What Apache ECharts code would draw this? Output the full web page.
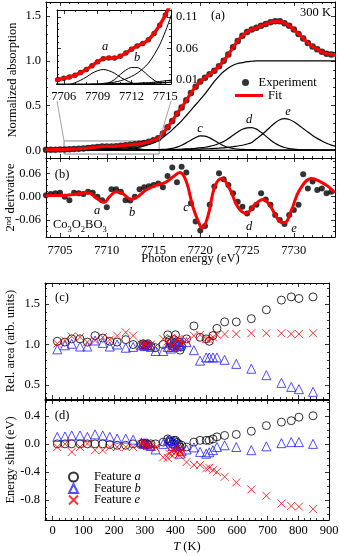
<!DOCTYPE html>
<html><head><meta charset="utf-8">
<script src="https://cdn.jsdelivr.net/npm/echarts@6/dist/echarts.min.js"></script>
<style>html,body{margin:0;padding:0;background:#fff}#c{width:339px;height:556px}</style>
</head><body><div id="c"></div>
<script>
// ---------------- DATA ----------------
// Panel (a): sampling energies (eV)
const energy = [7703.5,7704,7704.5,7705,7705.5,7706,7706.5,7707,7707.5,7708,
  7708.5,7709,7709.5,7710,7710.5,7711,7711.5,7712,7712.5,7713,
  7713.5,7714,7714.5,7715,7715.5,7716,7716.5,7717,7717.5,7718,
  7718.5,7719,7719.5,7720,7720.5,7721,7721.5,7722,7722.5,7723,
  7723.5,7724,7724.5,7725,7725.5,7726,7726.5,7727,7727.5,7728,
  7728.5,7729,7729.5,7730,7730.5,7731,7731.5,7732,7732.5,7733,
  7733.5,7734,7734.5];
// normalized absorption (experiment points; the fit lies on them)
const absorption = [0.008,0.008,0.009,0.010,0.011,0.013,0.015,0.018,0.022,0.027,
  0.033,0.039,0.044,0.045,0.045,0.048,0.053,0.059,0.064,0.068,
  0.074,0.084,0.097,0.113,0.135,0.19,0.26,0.33,0.41,0.48,
  0.56,0.64,0.71,0.77,0.81,0.85,0.89,0.94,1.00,1.07,
  1.15,1.22,1.28,1.32,1.35,1.37,1.39,1.41,1.43,1.44,
  1.44,1.42,1.39,1.35,1.30,1.25,1.20,1.16,1.13,1.10,
  1.08,1.07,1.06];
const edgeStep = [0.001,0.001,0.001,0.002,0.002,0.002,0.002,0.003,0.003,0.003,
  0.004,0.004,0.005,0.006,0.007,0.009,0.012,0.016,0.021,0.028,
  0.037,0.050,0.066,0.087,0.112,0.145,0.185,0.23,0.28,0.33,
  0.39,0.45,0.51,0.57,0.63,0.70,0.77,0.83,0.88,0.92,
  0.95,0.97,0.98,0.99,0.995,1.0,1.0,1.0,1.0,1.0,
  1.0,1.0,1.0,1.0,1.0,1.0,1.0,1.0,1.0,1.0,
  1.0,1.0,1.0];
const peakA = [0,0,0,0,0,0.001,0.003,0.006,0.010,0.015,
  0.021,0.025,0.027,0.025,0.021,0.015,0.010,0.006,0.003,0.001,
  0,0,0,0,0,0,0,0,0,0, 0,0,0,0,0,0,0,0,0,0,
  0,0,0,0,0,0,0,0,0,0, 0,0,0,0,0,0,0,0,0,0, 0,0,0];
const peakB = [0,0,0,0,0,0,0,0,0,0,
  0,0.001,0.002,0.006,0.011,0.019,0.026,0.030,0.030,0.025,
  0.017,0.010,0.005,0.002,0.001,0,0,0,0,0,
  0,0,0,0,0,0,0,0,0,0, 0,0,0,0,0,0,0,0,0,0, 0,0,0,0,0,0,0,0,0,0, 0,0,0];
const peakC = [0.002,0.002,0.002,0.002,0.002,0.003,0.003,0.003,0.003,0.003,
  0.003,0.003,0.004,0.004,0.004,0.004,0.005,0.005,0.005,0.006,
  0.006,0.007,0.008,0.009,0.010,0.012,0.016,0.024,0.038,0.058,
  0.085,0.115,0.145,0.163,0.160,0.140,0.112,0.080,0.053,0.034,
  0.022,0.016,0.012,0.010,0.009,0.008,0.007,0.006,0.006,0.005,
  0.005,0.005,0.004,0.004,0.004,0.004,0.003,0.003,0.003,0.003,
  0.003,0.003,0.003];
const peakD = [0.003,0.003,0.003,0.003,0.003,0.003,0.003,0.003,0.003,0.003,
  0.003,0.003,0.003,0.004,0.004,0.004,0.004,0.004,0.004,0.004,
  0.005,0.005,0.006,0.006,0.007,0.008,0.009,0.010,0.012,0.014,
  0.017,0.020,0.024,0.030,0.036,0.045,0.058,0.077,0.100,0.133,
  0.170,0.205,0.236,0.253,0.255,0.238,0.203,0.160,0.117,0.080,
  0.052,0.033,0.021,0.014,0.010,0.008,0.007,0.006,0.005,0.005,
  0.004,0.004,0.004];
const peakE = [0.004,0.004,0.004,0.004,0.004,0.004,0.004,0.004,0.004,0.004,
  0.004,0.004,0.004,0.004,0.005,0.005,0.005,0.005,0.005,0.005,
  0.005,0.005,0.006,0.006,0.007,0.007,0.008,0.009,0.010,0.011,
  0.012,0.013,0.015,0.016,0.018,0.020,0.023,0.026,0.030,0.035,
  0.042,0.050,0.058,0.072,0.090,0.130,0.170,0.215,0.265,0.310,
  0.343,0.355,0.345,0.320,0.285,0.245,0.205,0.168,0.135,0.105,
  0.080,0.060,0.046];

// Panel (b): 2nd derivative points (at energy[0..61]) and fit curve
const derivExp = [0.004,0.007,0.009,0.010,0.000,-0.009,0.010,0.009,0.007,0.013,
  0.010,0.000,-0.009,-0.027,0.019,0.019,0.013,-0.009,-0.010,0.000,
  0.019,0.024,0.027,0.030,0.034,0.024,0.053,0.075,0.037,0.077,
  0.062,-0.017,-0.064,-0.087,-0.075,-0.021,0.026,0.060,0.045,0.030,
  0.009,-0.013,-0.026,-0.043,-0.030,-0.021,0.009,-0.007,-0.021,-0.047,
  -0.060,-0.070,-0.047,-0.034,-0.021,0.058,0.021,0.039,0.017,0.021,
  0.009,0.013];
const derivFitE = [7703.5,7705.7,7708.0,7708.9,7709.7,7710.3,7711.0,7711.7,7712.6,7713.3,
  7714.2,7715.3,7716.2,7717.1,7717.8,7718.5,7719.2,7719.95,7720.2,7720.8,
  7721.55,7722.3,7723.2,7724.0,7724.9,7725.8,7726.7,7727.4,7728.5,7729.0,
  7729.75,7730.6,7731.9,7732.8,7733.7,7734.4];
const derivFitV = [0.003,0.004,0.010,-0.004,-0.015,0.000,0.013,0.008,-0.007,0.000,
  0.017,0.030,0.036,0.051,0.062,0.039,-0.026,-0.073,-0.081,-0.051,
  0.026,0.047,0.017,-0.026,-0.043,-0.021,-0.007,-0.021,-0.064,-0.067,
  -0.034,0.017,0.047,0.039,0.026,0.010];

// Panels (c),(d): temperatures (K)
const temps = [15,40,62,89,113,138,163,186,210,238,
  262,289,295,300,305,310,320,335,360,375,
  380,385,390,395,400,405,410,415,420,436,
  460,480,500,510,522,535,560,598,647,696,
  745,777,802,848];
const areaA = [1.04,1.03,1.07,1.07,1.03,1.11,1.08,1.04,1.03,1.06,
  1.00,1.00,1.01,0.99,1.00,1.01,0.98,0.96,1.00,1.12,
  1.05,1.02,0.98,1.06,1.12,1.00,1.03,0.93,0.97,1.07,
  1.23,1.09,1.07,1.04,1.11,1.20,1.28,1.28,1.32,1.43,
  1.55,1.59,1.57,1.59];
const areaB = [0.94,0.99,1.01,0.975,0.975,1.05,1.02,0.975,1.00,0.96,
  0.97,0.99,1.00,0.98,1.00,0.99,0.97,0.92,0.92,0.97,
  1.02,0.95,1.00,0.97,1.04,0.98,1.00,1.00,1.03,1.03,
  0.93,0.80,0.84,0.84,0.84,0.84,0.81,0.76,0.70,0.62,
  0.525,0.475,0.447,0.414];
const areaE = [1.01,1.05,1.10,1.09,1.03,1.05,1.09,1.06,1.11,1.15,
  1.11,1.00,0.99,1.01,1.00,0.98,1.00,0.975,1.07,1.04,
  1.00,1.08,0.97,1.02,1.05,0.96,1.07,1.03,1.00,1.05,
  1.11,1.12,1.07,1.06,1.09,1.12,1.13,1.13,1.14,1.14,
  1.14,1.13,1.13,1.14];
const shiftA = [0.00,0.00,0.00,0.00,0.00,0.00,0.00,-0.01,-0.02,-0.02,
  0.00,0.00,0.01,0.00,0.01,-0.01,0.00,0.00,0.025,0.07,
  0.04,0.03,0.00,0.05,0.05,0.02,0.00,-0.045,-0.02,-0.045,
  0.025,0.05,0.05,0.05,0.07,0.10,0.12,0.135,0.18,0.26,
  0.31,0.33,0.38,0.40];
const shiftB = [0.10,0.105,0.12,0.12,0.10,0.135,0.12,0.10,0.075,0.075,
  0.06,0.02,0.00,0.01,0.00,-0.02,-0.03,-0.08,0.00,0.05,
  0.06,0.02,-0.03,0.04,0.00,-0.05,-0.02,-0.14,-0.10,-0.08,
  -0.05,-0.115,-0.14,-0.12,-0.09,-0.045,-0.02,-0.045,-0.09,-0.035,
  0.01,0.025,0.025,0.00];
const shiftE = [-0.045,0.00,-0.116,-0.045,0.00,-0.09,-0.09,-0.045,-0.045,-0.045,
  -0.045,0.00,0.02,-0.01,0.00,-0.02,-0.03,-0.05,-0.19,-0.20,
  -0.14,-0.10,-0.17,-0.08,-0.12,-0.06,-0.15,-0.10,-0.14,-0.26,
  -0.30,-0.30,-0.35,-0.34,-0.375,-0.40,-0.47,-0.55,-0.65,-0.74,
  -0.85,-0.885,-0.895,-0.93];

// tick labels
const energyTicks = [7705,7710,7715,7720,7725,7730];
const insetEnergyTicks = [7706,7709,7712,7715];
const absTicks = [0.0,0.5,1.0,1.5];
const derivTicks = [-0.06,0.00,0.06];
const insetAbsTicks = [0.01,0.06,0.11];
const areaTicks = [0.5,1.0,1.5];
const shiftTicks = [-0.8,-0.4,0.0,0.4];
const tempTicks = [0,100,200,300,400,500,600,700,800,900];
// zoom box (data units of panel a)
const zoomBoxE = [7705.43,7715.6];
const zoomBoxV = [-0.04,0.106];

// ---------------- CHART ----------------
const FONT = '"Liberation Serif","Times New Roman",serif';
const FS = 12.5;
const grids = [
  {left:46, top:2,   width:289, height:156}, // a
  {left:46, top:158, width:289, height:79},  // b
  {left:45, top:283, width:284, height:116}, // c
  {left:45, top:400, width:284, height:120}, // d
  {left:57, top:10,  width:114, height:74}   // inset
];
function minors(lo, hi, step, majors){
  const out=[];
  for(let k=Math.ceil(lo/step-1e-9); k*step<=hi+1e-9; k++){
    const v=+(k*step).toFixed(6);
    if(!majors.some(m=>Math.abs(m-v)<1e-7)) out.push(v);
  }
  return out;
}
const xAxes=[], yAxes=[];
function frame(gi, dim, o){
  const arr = dim==='x'?xAxes:yAxes;
  const sides = dim==='x'?['bottom','top']:['left','right'];
  let primary=-1;
  sides.forEach((pos,si)=>{
    const showLabel = o.labelSide===si;
    const base={type:'value', gridIndex:gi, position:pos, min:o.min, max:o.max,
      splitLine:{show:false}, axisPointer:{show:false}, silent:true};
    const ax = Object.assign({}, base, {
      axisLine:{show:true, onZero:false, lineStyle:{color:'#000', width:1}},
      axisTick:{show:true, inside:true, length:4, customValues:o.major, lineStyle:{color:'#000', width:0.8}},
      axisLabel:{show:showLabel, customValues:o.major, formatter:o.fmt, margin:o.margin||5,
        color:'#000', fontFamily:FONT, fontSize:FS}
    });
    if(showLabel && o.name){
      ax.name=o.name; ax.nameLocation='middle'; ax.nameGap=o.nameGap; ax.nameMoveOverlap=false;
      if(dim==='y') ax.nameRotate=90;
      ax.nameTextStyle={color:'#000', fontFamily:FONT, fontSize:FS, rich:o.rich||{}};
    }
    if(si===0) primary=arr.length;
    arr.push(ax);
    arr.push(Object.assign({}, base, {
      axisLine:{show:false, onZero:false},
      axisTick:{show:true, inside:true, length:2, customValues:o.minor, lineStyle:{color:'#000', width:0.8}},
      axisLabel:{show:false}
    }));
  });
  return primary;
}
const f1 = v=>v.toFixed(1), f2 = v=>v.toFixed(2), f0 = v=>String(v);
const supRich = {m:{fontFamily:FONT, fontSize:FS, lineHeight:16, verticalAlign:'top'},
                 sup:{fontFamily:FONT, fontSize:8.5, lineHeight:9, verticalAlign:'top'}};
const itRich = {i:{fontFamily:FONT, fontSize:FS, fontStyle:'italic'}};

const xa = frame(0,'x',{min:7703.5,max:7734.4,major:energyTicks,minor:minors(7703.5,7734.4,1,energyTicks),labelSide:null});
const ya = frame(0,'y',{min:-0.084,max:1.656,major:absTicks,minor:minors(-0.084,1.656,0.1,absTicks),labelSide:0,fmt:f1,
  name:'Normalized absorption', nameGap:27});
const xb = frame(1,'x',{min:7703.5,max:7734.4,major:energyTicks,minor:minors(7703.5,7734.4,1,energyTicks),labelSide:0,fmt:f0,margin:7,
  name:'Photon energy (eV)', nameGap:15});
const yb = frame(1,'y',{min:-0.1036,max:0.0995,major:derivTicks,minor:minors(-0.1036,0.0995,0.015,derivTicks),labelSide:0,fmt:f2,
  name:'{m|2}{sup|nd}{m| derivative}', nameGap:26, rich:supRich});
const xc = frame(2,'x',{min:-25,max:900,major:tempTicks,minor:minors(-25,900,20,tempTicks),labelSide:null});
const yc = frame(2,'y',{min:0.325,max:1.762,major:areaTicks,minor:minors(0.325,1.762,0.1,areaTicks),labelSide:0,fmt:f1,
  name:'Rel. area (arb. units)', nameGap:28});
const xd = frame(3,'x',{min:-25,max:900,major:tempTicks,minor:minors(-25,900,20,tempTicks),labelSide:0,fmt:f0,margin:4,
  name:'{i|T} (K)', nameGap:20, rich:itRich});
const yd = frame(3,'y',{min:-1.085,max:0.625,major:shiftTicks,minor:minors(-1.085,0.625,0.1,shiftTicks),labelSide:0,fmt:f1,
  name:'Energy shift (eV)', nameGap:28});
const xi = frame(4,'x',{min:7705.4,max:7715.5,major:insetEnergyTicks,minor:minors(7705.4,7715.5,1,insetEnergyTicks),labelSide:0,fmt:f0,margin:6});
const yi = frame(4,'y',{min:0.004,max:0.121,major:insetAbsTicks,minor:minors(0.004,0.121,0.01,insetAbsTicks),labelSide:1,fmt:f2,margin:5});

const pairs = (xs, ys)=>ys.map((v,i)=>[xs[i], v]);
const series = [];
function curve(name, x, y, xs, ys, color, width, z, smooth){
  series.push({type:'line', name, xAxisIndex:x, yAxisIndex:y, data:pairs(xs,ys), symbol:'none', showSymbol:false,
    smooth: smooth===undefined?0.3:smooth, lineStyle:{color, width}, itemStyle:{color}, z, silent:true, clip:true});
}
function dots(name, x, y, xs, ys, size, z, extra){
  series.push(Object.assign({type:'scatter', name, xAxisIndex:x, yAxisIndex:y, data:pairs(xs,ys), symbol:'circle',
    symbolSize:size, itemStyle:{color:'#000'}, z, silent:true, clip:true}, extra||{}));
}
// panel a
dots('Experiment', xa, ya, energy, absorption, 6.5, 2, {
  markArea:{silent:true, itemStyle:{color:'rgba(0,0,0,0)', borderColor:'#8a8a8a', borderWidth:1},
    data:[[{coord:[zoomBoxE[0], zoomBoxV[0]]},{coord:[zoomBoxE[1], zoomBoxV[1]]}]]},
  markLine:{silent:true, symbol:['none','none'], label:{show:false}, lineStyle:{color:'#8a8a8a', width:0.8, type:'solid'},
    data:[[{coord:[zoomBoxE[0], zoomBoxV[1]]},{x:grids[4].left, y:grids[4].top+grids[4].height+17}],
          [{coord:[zoomBoxE[1], zoomBoxV[1]]},{x:grids[4].left+grids[4].width, y:grids[4].top+grids[4].height+17}]]}
});
[edgeStep, peakA, peakB, peakC, peakD, peakE].forEach(arr=>curve('comp', xa, ya, energy, arr, '#000', 1.2, 3));
curve('Fit', xa, ya, energy, absorption, '#ff0000', 3.2, 4);
// inset
dots('Experiment', xi, yi, energy, absorption, 5.5, 5);
[edgeStep, peakA, peakB, peakC, peakD, peakE].forEach(arr=>curve('comp', xi, yi, energy, arr, '#000', 1, 6));
curve('Fit', xi, yi, energy, absorption, '#ff0000', 3.5, 7);
// panel b
dots('Experiment', xb, yb, energy.slice(0, derivExp.length), derivExp, 6, 2);
curve('Fit', xb, yb, derivFitE, derivFitV, '#ff0000', 3, 4, 0.4);
// panels c, d
const circ = {symbol:'circle', symbolSize:8, itemStyle:{color:'rgba(0,0,0,0)', borderColor:'#000', borderWidth:1}};
const tri = {symbol:'triangle', symbolSize:9, itemStyle:{color:'rgba(0,0,0,0)', borderColor:'#2020ff', borderWidth:1}};
const crs = {symbol:'path://M0,0L10,10M10,0L0,10', symbolSize:8, itemStyle:{color:'rgba(0,0,0,0)', borderColor:'#ff0000', borderWidth:1}};
dots('Feature a', xc, yc, temps, areaA, 8, 3, circ);
dots('Feature b', xc, yc, temps, areaB, 9, 3, tri);
dots('Feature e', xc, yc, temps, areaE, 8, 3, crs);
dots('Feature a', xd, yd, temps, shiftA, 8, 3, circ);
dots('Feature b', xd, yd, temps, shiftB, 9, 3, tri);
dots('Feature e', xd, yd, temps, shiftE, 8, 3, crs);

const lgText = {color:'#000', fontFamily:FONT, fontSize:FS,
  rich:{i:{fontFamily:FONT, fontSize:FS, fontStyle:'italic'}, sp:{width:11, fontSize:FS}}};
const legFmt = n=>'{sp| }'+n.replace(/ ([abe])$/, ' {i|$1}');
const legend = [
  {data:['Experiment'], left:242, top:76, itemWidth:16, itemHeight:7, padding:0, selectedMode:false, textStyle:lgText},
  {data:[{name:'Fit', icon:'rect'}], left:235, top:89, itemWidth:28, itemHeight:3, padding:0, selectedMode:false, textStyle:lgText},
  {data:['Feature a'], left:68, top:470.5, itemWidth:9, itemHeight:9, padding:0, selectedMode:false, textStyle:lgText, formatter:legFmt},
  {data:['Feature b'], left:68, top:482, itemWidth:9, itemHeight:9, padding:0, selectedMode:false, textStyle:lgText, formatter:legFmt},
  {data:['Feature e'], left:68, top:493.5, itemWidth:9, itemHeight:9, padding:0, selectedMode:false, textStyle:lgText, formatter:legFmt}
];

function txt(t, x, y, opt){
  opt=opt||{};
  return {type:'text', x, y, silent:true, z:50, style:Object.assign({text:t, fill:'#000',
    font:(opt.italic?'italic ':'')+FS+'px '+FONT, align:opt.align||'center', verticalAlign:'middle'}, opt.style||{})};
}
const graphic = [
  txt('(a)', 218, 16), txt('300 K', 331, 13, {align:'right'}),
  txt('(b)', 62, 175), txt('(c)', 62, 298), txt('(d)', 62, 416),
  txt('{m|Co}{s|3}{m|O}{s|2}{m|BO}{s|3}', 53, 226.5, {align:'left', style:{rich:{
    m:{fontFamily:FONT, fontSize:FS, lineHeight:16, verticalAlign:'top'},
    s:{fontFamily:FONT, fontSize:8.5, lineHeight:8, verticalAlign:'bottom'}}}}),
  txt('a', 105, 46.5, {italic:true}), txt('b', 137, 58, {italic:true}),
  txt('c', 200, 129, {italic:true}), txt('d', 249, 120, {italic:true}), txt('e', 288, 111.5, {italic:true}),
  txt('a', 97, 210.5, {italic:true}), txt('b', 132, 212.5, {italic:true}), txt('c', 186, 208, {italic:true}),
  txt('d', 249, 227, {italic:true}), txt('e', 294, 229, {italic:true})
];

const chart = echarts.init(document.getElementById('c'), null, {renderer:'canvas'});
chart.setOption({
  animation:false, backgroundColor:'#fff',
  textStyle:{fontFamily:FONT},
  grid: grids.map(g=>Object.assign({containLabel:false, outerBoundsMode:'none'}, g)),
  xAxis:xAxes, yAxis:yAxes, series, legend, graphic
});
</script></body></html>
